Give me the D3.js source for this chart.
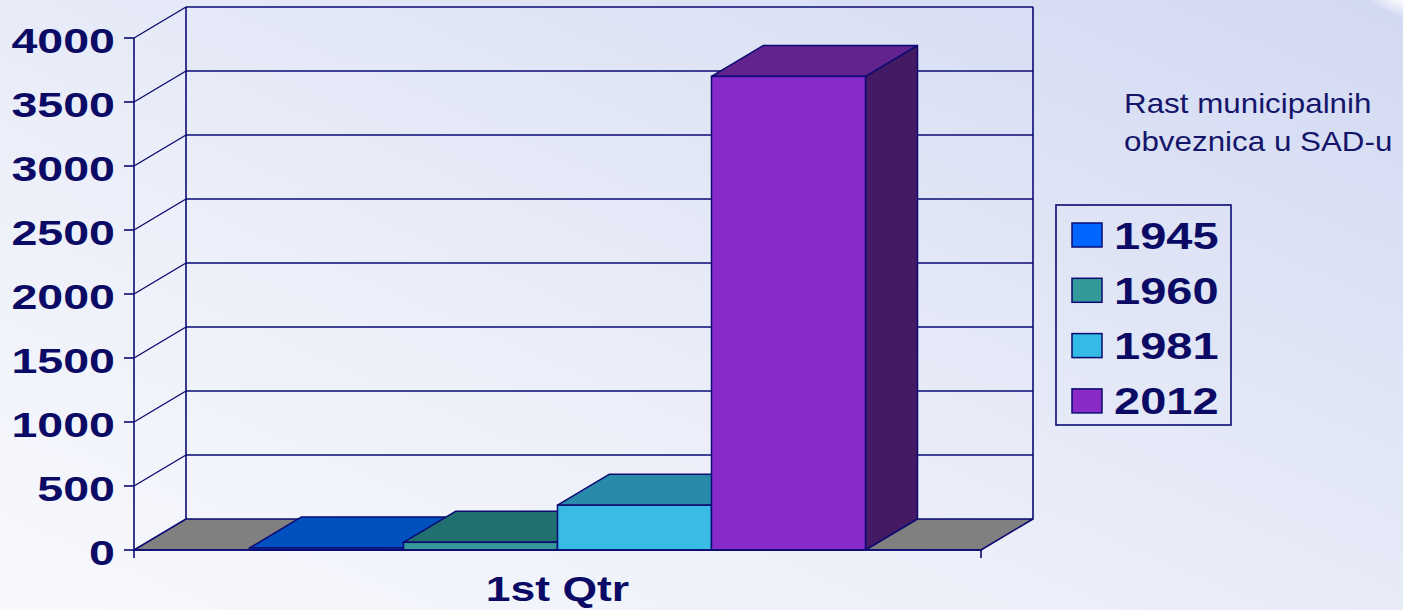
<!DOCTYPE html>
<html>
<head>
<meta charset="utf-8">
<script src="https://cdn.jsdelivr.net/npm/d3@7"></script>
<style>
  html, body { margin: 0; padding: 0; overflow: hidden; }
  svg { display: block; }
  text { font-family: "Liberation Sans", Arial, sans-serif; }
</style>
</head>
<body>
<svg id="chart" width="1403" height="610"></svg>
<script>
// ---- data ----
const categories = ["1st Qtr"];
const seriesNames = ["1945", "1960", "1981", "2012"];
const seriesValues = [16, 60, 350, 3700];
const yTicks = [0, 500, 1000, 1500, 2000, 2500, 3000, 3500, 4000];
const titleLines = ["Rast municipalnih", "obveznica u SAD-u"];

// ---- style ----
const frontColors = ["#0058dc", "#339999", "#38bbe5", "#862bc8"];
const topColors   = ["#0050c0", "#217070", "#2a8aaa", "#62238f"];
const sideColors  = ["#003488", "#1a4c4c", "#1f6f8a", "#431a63"];
const legendColors = ["#0066ff", "#339999", "#33bbe6", "#8a2bc8"];
const lineColor = "#0a0a72";
const textColor = "#0b0b66";

const W = 1403, H = 610;
const svg = d3.select("#chart");

// background
const defs = svg.append("defs");
const lg = defs.append("linearGradient").attr("id", "bg")
  .attr("x1", "0").attr("y1", "1").attr("x2", "1").attr("y2", "0");
lg.append("stop").attr("offset", "0%").attr("stop-color", "#f8f9fd");
lg.append("stop").attr("offset", "40%").attr("stop-color", "#eceff9");
lg.append("stop").attr("offset", "100%").attr("stop-color", "#d2d9f2");
svg.append("rect").attr("width", W).attr("height", H).attr("fill", "url(#bg)");
const rg = defs.append("radialGradient").attr("id", "glow")
  .attr("cx", "0.5").attr("cy", "0.5").attr("r", "0.5");
rg.append("stop").attr("offset", "0%").attr("stop-color", "#ffffff").attr("stop-opacity", 0.85);
rg.append("stop").attr("offset", "100%").attr("stop-color", "#ffffff").attr("stop-opacity", 0);
svg.append("ellipse").attr("cx", 1400).attr("cy", 2).attr("rx", 45).attr("ry", 14)
  .attr("fill", "url(#glow)").attr("transform", "rotate(20,1400,2)");

// scales
const y = d3.scaleLinear().domain([0, 4000]).range([550, 38]);
const x0 = d3.scaleBand().domain(categories).range([134, 981]);
const x1 = d3.scaleBand().domain(seriesNames).range([x0(categories[0]), x0(categories[0]) + x0.bandwidth()])
  .paddingInner(0).paddingOuter(0.75);
const DX = 52, DY = -31;
const xL = x0.range()[0], xR = x0.range()[1];

const g = svg.append("g");

// left wall & back wall gridlines
yTicks.forEach(t => {
  if (t > 0) {
    g.append("line").attr("x1", xL + DX).attr("x2", xR + DX)
      .attr("y1", y(t) + DY).attr("y2", y(t) + DY)
      .attr("stroke", lineColor).attr("stroke-width", 1.4);
    g.append("line").attr("x1", xL).attr("x2", xL + DX)
      .attr("y1", y(t)).attr("y2", y(t) + DY)
      .attr("stroke", lineColor).attr("stroke-width", 1.4);
  }
});
// back wall verticals
[xL + DX, xR + DX].forEach(xx => {
  g.append("line").attr("x1", xx).attr("x2", xx)
    .attr("y1", y(4000) + DY).attr("y2", y(0) + DY)
    .attr("stroke", lineColor).attr("stroke-width", 1.6);
});

// floor
const floorPts = [[xL, y(0)], [xR, y(0)], [xR + DX, y(0) + DY], [xL + DX, y(0) + DY]];
g.append("polygon").attr("points", floorPts.map(p => p.join(",")).join(" "))
  .attr("fill", "#808080").attr("stroke", lineColor).attr("stroke-width", 1.6)
  .attr("stroke-linejoin", "round");

// bars
seriesNames.forEach((s, i) => {
  const v = seriesValues[i];
  const bx = x1(s), bw = x1.bandwidth();
  const yt = y(v), yb = y(0);
  const side = [[bx + bw, yb], [bx + bw + DX, yb + DY], [bx + bw + DX, yt + DY], [bx + bw, yt]];
  const top = [[bx, yt], [bx + DX, yt + DY], [bx + bw + DX, yt + DY], [bx + bw, yt]];
  const bar = g.append("g");
  bar.append("polygon").attr("points", side.map(p => p.join(",")).join(" "))
    .attr("fill", sideColors[i]).attr("stroke", lineColor).attr("stroke-width", 1.5).attr("stroke-linejoin", "round");
  bar.append("polygon").attr("points", top.map(p => p.join(",")).join(" "))
    .attr("fill", topColors[i]).attr("stroke", lineColor).attr("stroke-width", 1.5).attr("stroke-linejoin", "round");
  bar.append("rect").attr("x", bx).attr("y", yt).attr("width", bw).attr("height", yb - yt)
    .attr("fill", frontColors[i]).attr("stroke", lineColor).attr("stroke-width", 1.5);
});

// front axes
g.append("line").attr("x1", xL).attr("x2", xL).attr("y1", y(4000)).attr("y2", y(0) + 8)
  .attr("stroke", lineColor).attr("stroke-width", 1.6);
g.append("line").attr("x1", xL).attr("x2", xR).attr("y1", y(0)).attr("y2", y(0))
  .attr("stroke", lineColor).attr("stroke-width", 1.6);
g.append("line").attr("x1", xR).attr("x2", xR).attr("y1", y(0)).attr("y2", y(0) + 8)
  .attr("stroke", lineColor).attr("stroke-width", 1.6);
yTicks.forEach(t => {
  g.append("line").attr("x1", xL - 10).attr("x2", xL).attr("y1", y(t)).attr("y2", y(t))
    .attr("stroke", lineColor).attr("stroke-width", 1.6);
  g.append("text")
    .attr("transform", `translate(115,${y(t) + 15}) scale(1.33,1)`)
    .attr("text-anchor", "end").attr("font-size", 35).attr("font-weight", "bold")
    .attr("fill", textColor).text(t);
});

// category label
g.append("text")
  .attr("transform", `translate(${x0(categories[0]) + x0.bandwidth() / 2},601) scale(1.27,1)`)
  .attr("text-anchor", "middle").attr("font-size", 35).attr("font-weight", "bold")
  .attr("fill", textColor).text(categories[0]);

// title
titleLines.forEach((t, i) => {
  svg.append("text")
    .attr("transform", `translate(1124,${113 + i * 37.5}) scale(1.12,1)`)
    .attr("font-size", 28).attr("fill", "#15156a").text(t);
});

// legend
const leg = svg.append("g");
leg.append("rect").attr("x", 1056).attr("y", 205).attr("width", 175).attr("height", 220)
  .attr("fill", "none").attr("stroke", lineColor).attr("stroke-width", 1.6);
seriesNames.forEach((s, i) => {
  const yy = 223 + i * 55.3;
  leg.append("rect").attr("x", 1072).attr("y", yy).attr("width", 30).attr("height", 24)
    .attr("fill", legendColors[i]).attr("stroke", lineColor).attr("stroke-width", 1.5);
  leg.append("text")
    .attr("transform", `translate(1114,${yy + 25.5}) scale(1.27,1)`)
    .attr("font-size", 37).attr("font-weight", "bold").attr("fill", textColor).text(s);
});
</script>
</body>
</html>
